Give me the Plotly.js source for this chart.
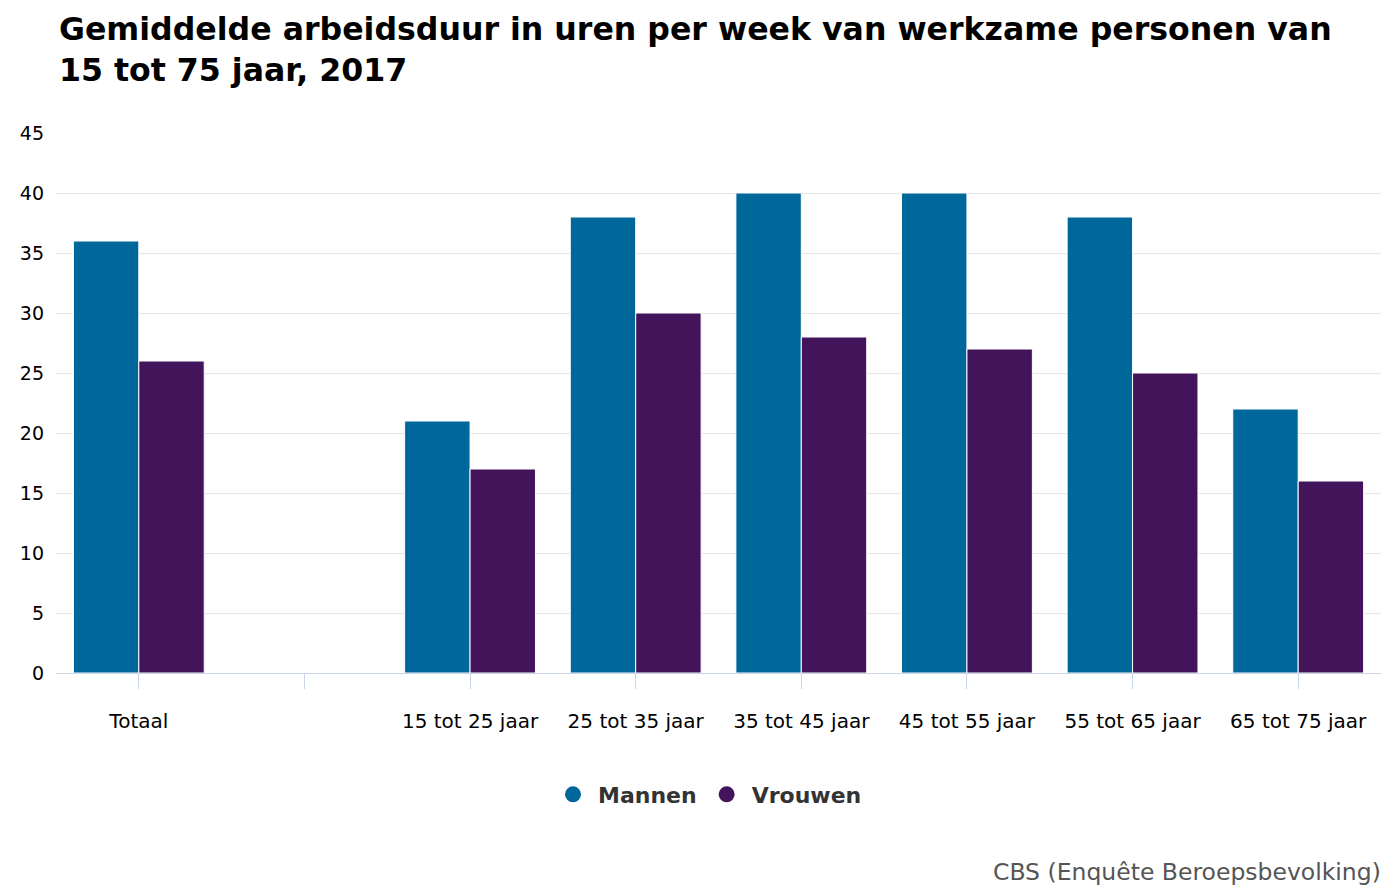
<!DOCTYPE html>
<html>
<head>
<meta charset="utf-8">
<script src="https://cdn.plot.ly/plotly-3.0.1.min.js"></script>
<style>html,body{margin:0;padding:0;background:#fff;}#chart{width:1400px;height:891px;}</style>
</head>
<body>
<div id="chart"></div>
<script>
const categories = ["Totaal", " ", "15 tot 25 jaar", "25 tot 35 jaar", "35 tot 45 jaar", "45 tot 55 jaar", "55 tot 65 jaar", "65 tot 75 jaar"];
const mannen = [36, null, 21, 38, 40, 40, 38, 22];
const vrouwen = [26, null, 17, 30, 28, 27, 25, 16];
const seriesNames = ["Mannen", "Vrouwen"];
const colors = ["#00679a", "#43145a"];
const titleText = "<b>Gemiddelde arbeidsduur in uren per week van werkzame personen van<br>15 tot 75 jaar, 2017</b>";
const sourceText = "CBS (Enquête Beroepsbevolking)";

const font = "DejaVu Sans, Verdana, sans-serif";

const traces = [
  {type: "bar", x: categories, y: mannen, name: seriesNames[0], marker: {color: colors[0], line: {color: "#ffffff", width: 1}}, showlegend: false},
  {type: "bar", x: categories, y: vrouwen, name: seriesNames[1], marker: {color: colors[1], line: {color: "#ffffff", width: 1}}, showlegend: false},
  {type: "scatter", mode: "markers", x: [categories[0]], y: [null], name: seriesNames[0], marker: {color: colors[0], size: 16, symbol: "circle"}, hoverinfo: "skip"},
  {type: "scatter", mode: "markers", x: [categories[0]], y: [null], name: seriesNames[1], marker: {color: colors[1], size: 16, symbol: "circle"}, hoverinfo: "skip"}
];

const layout = {
  width: 1400, height: 891,
  paper_bgcolor: "#ffffff", plot_bgcolor: "#ffffff",
  margin: {l: 56, r: 19, t: 133, b: 218},
  font: {family: font, size: 19, color: "#000000"},
  barmode: "group",
  bargap: 0.21,
  bargroupgap: 0,
  xaxis: {
    type: "category",
    showgrid: false,
    showline: true, linecolor: "#ccd6eb", linewidth: 1,
    ticks: "outside", ticklen: 15, tickcolor: "#ccd6eb", tickwidth: 1,
    tickfont: {family: font, size: 20, color: "#000000"},
    ticklabelstandoff: 15,
    fixedrange: true
  },
  yaxis: {
    range: [0, 45],
    tick0: 0, dtick: 5,
    showgrid: true, gridcolor: "#e6e6e6", gridwidth: 1,
    zeroline: false,
    showline: false,
    tickfont: {family: font, size: 19, color: "#000000"},
    ticklabelstandoff: 11,
    fixedrange: true
  },
  legend: {
    orientation: "h",
    x: 0.4917, xanchor: "center",
    y: -0.225, yanchor: "middle",
    font: {family: font, size: 22, color: "#333333", weight: "bold"},
    itemsizing: "trace",
    itemwidth: 40,
    traceorder: "normal"
  },
  annotations: [
    {
      text: titleText,
      xref: "paper", yref: "paper",
      x: 0, y: 1, xanchor: "left", yanchor: "bottom", align: "left",
      xshift: 1, yshift: 43,
      showarrow: false,
      font: {family: font, size: 31.6, color: "#000000"}
    },
    {
      text: sourceText,
      xref: "paper", yref: "paper",
      x: 1, y: 0,
      xanchor: "right", yanchor: "bottom",
      xshift: 2, yshift: -215,
      showarrow: false,
      font: {family: font, size: 23.5, color: "#555555"}
    }
  ]
};

Plotly.newPlot("chart", traces, layout, {displayModeBar: false, staticPlot: true});
</script>
</body>
</html>
